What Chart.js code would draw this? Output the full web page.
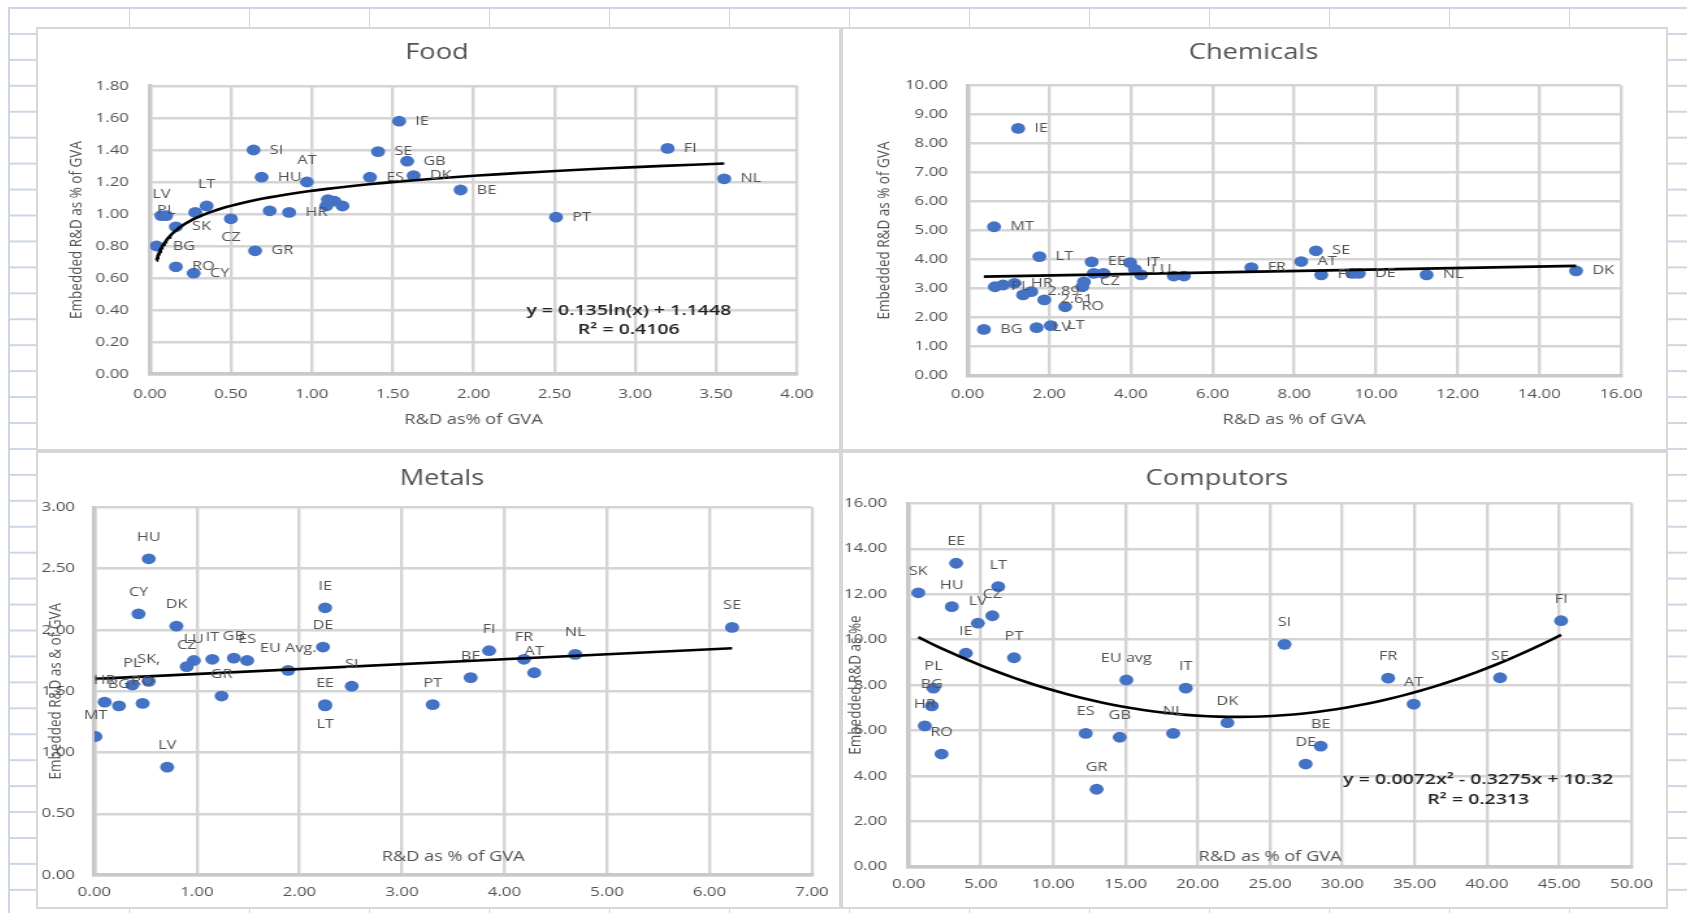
<!DOCTYPE html>
<html>
<head>
<meta charset="utf-8">
<script src="https://cdn.jsdelivr.net/npm/chart.js@4.4.1/dist/chart.umd.min.js"></script>
<style>
html,body{margin:0;padding:0;background:#fff;width:1687px;height:913px;overflow:hidden;}
#sheet{position:absolute;left:8px;top:7px;width:1679px;height:906px;
  background-image:
    linear-gradient(to right, #cdd6e5 0, #cdd6e5 1.5px, transparent 1.5px),
    linear-gradient(to bottom, #cdd6e5 0, #cdd6e5 1.5px, transparent 1.5px);
  background-size:120px 100%, 100% 25.95px;
  background-position:1px 0, 0 0;}
#sheet:before{content:"";position:absolute;left:0;top:0;width:1.5px;height:100%;background:#cdd6e5;}
.panel{position:absolute;background:#fff;box-shadow:inset 0 0 0 2px #d6d6d6;overflow:hidden;}
.panel canvas{position:absolute;left:0;top:0;transform-origin:0 0;transform:scaleX(1.3);}
</style>
</head>
<body>
<div id="sheet"></div>
<div class="panel" id="pFood"></div>
<div class="panel" id="pChem"></div>
<div class="panel" id="pMetals"></div>
<div class="panel" id="pComp"></div>
<script>
// ---------------- DATA ----------------
// Food
const foodTitle = 'Food';
const foodXTitle = 'R&D as% of GVA';
const foodYTitle = 'Embedded R&D as % of GVA';
const foodCountries = ['IE','SI','SE','GB','FI','NL','HU','ES','DK','AT','BE','LT','LV','PL','','SK','CZ','','HR','','','','','BG','GR','RO','CY','PT'];
const foodRD =        [1.54,0.64,1.41,1.59,3.20,3.55,0.69,1.36,1.63,0.97,1.92,0.35,0.07,0.10,0.28,0.16,0.50,0.74,0.86,1.10,1.09,1.14,1.19,0.04,0.65,0.16,0.27,2.51];
const foodEmbedded =  [1.58,1.40,1.39,1.33,1.41,1.22,1.23,1.23,1.24,1.20,1.15,1.05,0.99,0.99,1.01,0.92,0.97,1.02,1.01,1.09,1.05,1.08,1.05,0.80,0.77,0.67,0.63,0.98];
const foodLabelPlace = ['r','r','r','r','r','r','r','r','r','t','r','t','t','c','r','r','b','r','r','r','r','r','r','r','r','r','r','r'];
const foodXRange = [0, 4, 0.5];
const foodYRange = [0, 1.8, 0.2];
const foodTrendCoef = [0.135, 1.1448];           // y = a ln(x) + b
const foodEquation = ['y = 0.135ln(x) + 1.1448', 'R\u00B2 = 0.4106'];

// Chemicals
const chemTitle = 'Chemicals';
const chemXTitle = 'R&D as % of GVA';
const chemYTitle = 'Embedded R&D as % of GVA';
const chemCountries = ['IE','MT','LT','EE','IT','LU','','','','','','CZ','','PL','','HR','2.89','2.61','','RO','BG','LV','LT','SE','AT','FR','FI','','DE','NL','DK'];
const chemRD =        [1.24,0.65,1.76,3.04,3.98,4.10,4.25,5.05,5.30,3.33,3.09,2.85,2.81,0.67,0.87,1.15,1.56,1.88,1.36,2.39,0.40,1.69,2.04,8.53,8.17,6.95,8.66,9.42,9.58,11.24,14.90];
const chemEmbedded =  [8.52,5.13,4.10,3.92,3.89,3.66,3.47,3.43,3.43,3.52,3.52,3.23,3.06,3.06,3.12,3.18,2.89,2.61,2.78,2.37,1.59,1.65,1.72,4.30,3.93,3.72,3.47,3.52,3.52,3.47,3.61];
const chemLabelPlace = chemCountries.map(() => 'r');
const chemXRange = [0, 16, 2];
const chemYRange = [0, 10, 1];
const chemTrendX = [0.40, 14.90];
const chemTrendY = [3.41, 3.78];

// Metals
const metalsTitle = 'Metals';
const metalsXTitle = 'R&D as % of GVA';
const metalsYTitle = 'Embedded R&D as & of GVA';
const metalsCountries = ['HU','CY','DK','IE','DE','SE','FI','NL','FR','AT','BE','PT','SI','EE','LT','EU Avg.','GR','CZ','LU','IT','GB','ES','PL','SK,','HR','BG','RO','MT','LV'];
const metalsRD =        [0.53,0.43,0.80,2.25,2.23,6.22,3.85,4.69,4.19,4.29,3.67,3.30,2.51,2.25,2.25,1.89,1.24,0.90,0.97,1.15,1.36,1.49,0.37,0.53,0.10,0.24,0.47,0.01,0.71];
const metalsEmbedded =  [2.58,2.13,2.03,2.18,1.86,2.02,1.83,1.80,1.76,1.65,1.61,1.39,1.54,1.39,1.38,1.67,1.46,1.70,1.75,1.76,1.77,1.75,1.55,1.58,1.41,1.38,1.40,1.13,0.88];
const metalsLabelPlace = metalsCountries.map(c => c === 'LT' ? 'b' : 't');
const metalsXRange = [0, 7, 1];
const metalsYRange = [0, 3, 0.5];
const metalsTrendX = [0.01, 6.22];
const metalsTrendY = [1.60, 1.85];

// Computors
const compTitle = 'Computors';
const compXTitle = 'R&D as % of GVA';
const compYTitle = 'Embedded R&D as %e';
const compCountries = ['SK','EE','LT','HU','CZ','LV','IE','PT','PL','BG','HR','RO','ES','GB','GR','EU avg','IT','NL','DK','SI','BE','DE','FR','AT','SE','FI'];
const compRD =        [0.67,3.29,6.20,2.99,5.79,4.79,3.96,7.29,1.72,1.60,1.12,2.28,12.25,14.60,13.00,15.06,19.17,18.30,22.05,26.00,28.50,27.46,33.17,34.93,40.91,45.13];
const compEmbedded =  [12.06,13.36,12.33,11.45,11.05,10.72,9.40,9.20,7.86,7.08,6.20,4.96,5.87,5.70,3.41,8.22,7.86,5.87,6.34,9.79,5.31,4.52,8.30,7.16,8.32,10.83];
const compLabelPlace = compCountries.map(() => 't');
const compXRange = [0, 50, 5];
const compYRange = [0, 16, 2];
const compTrendCoef = [0.0072, -0.3275, 10.32];   // y = a x^2 + b x + c
const compEquation = ['y = 0.0072x\u00B2 - 0.3275x + 10.32', 'R\u00B2 = 0.2313'];

// ---------------- STYLE / LAYOUT ----------------
const K = 1.3;                 // horizontal stretch of the reference picture
const FONT = "'Open Sans', 'Segoe UI', sans-serif";
const GREY = '#525252';
const BLUE = '#4472C4';
Chart.defaults.font.family = FONT;
Chart.defaults.color = GREY;

const pointLabelPlugin = {
  id: 'pointLabelPlugin',
  afterDatasetsDraw(chart) {
    const ctx = chart.ctx;
    ctx.save();
    ctx.font = "12.5px " + FONT;
    ctx.fillStyle = GREY;
    ctx.textBaseline = 'middle';
    chart.data.datasets.forEach((ds, di) => {
      if (!ds.pointText) return;
      const meta = chart.getDatasetMeta(di);
      meta.data.forEach((el, i) => {
        const t = ds.pointText[i];
        if (!t) return;
        const p = ds.pointPlace[i];
        let x = el.x, y = el.y;
        if (p === 'r') { ctx.textAlign = 'left'; x += 12.5; }
        else if (p === 't') { ctx.textAlign = 'center'; y -= 21.5; }
        else if (p === 'b') { ctx.textAlign = 'center'; y += 19; }
        else { ctx.textAlign = 'center'; y -= 5; }
        ctx.fillText(t, x, y);
      });
    });
    ctx.restore();
  }
};

const equationPlugin = {
  id: 'equationText',
  afterDatasetsDraw(chart, args, opts) {
    if (!opts || !opts.lines || !opts.lines.length) return;
    const a = chart.chartArea, ctx = chart.ctx;
    ctx.save();
    ctx.font = "600 15px " + FONT;
    ctx.fillStyle = '#222';
    ctx.textAlign = 'center';
    ctx.textBaseline = 'middle';
    opts.lines.forEach((t, i) => {
      ctx.fillText(t, a.left + opts.fx * (a.right - a.left), a.top + opts.fy[i] * (a.bottom - a.top));
    });
    ctx.restore();
  }
};

// places the chart title's centre where the reference has it
const titlePlacePlugin = {
  id: 'titlePlace',
  afterLayout(chart, args, opts) {
    const tb = chart.titleBlock;
    if (!tb || opts.cx == null) return;
    tb.left = opts.cx - 200;
    tb.right = opts.cx + 200;
  }
};

function pairs(xs, ys) { return xs.map((x, i) => ({x: x, y: ys[i]})); }

function logCurve(xs, coef) {
  const lo = Math.min(...xs), hi = Math.max(...xs), out = [];
  for (let i = 0; i <= 80; i++) {
    const x = lo * Math.pow(hi / lo, i / 80);
    out.push({x: x, y: coef[0] * Math.log(x) + coef[1]});
  }
  return out;
}
function polyCurve(xs, coef) {
  const lo = Math.min(...xs), hi = Math.max(...xs), out = [];
  for (let i = 0; i <= 60; i++) {
    const x = lo + (hi - lo) * i / 60;
    out.push({x: x, y: coef[0] * x * x + coef[1] * x + coef[2]});
  }
  return out;
}

function buildPanel(divId, g, s) {
  const div = document.getElementById(divId);
  div.style.left = g.panel.x + 'px';
  div.style.top = g.panel.y + 'px';
  div.style.width = g.panel.w + 'px';
  div.style.height = g.panel.h + 'px';
  const cw = Math.round(g.panel.w / K), ch = g.panel.h;
  const canvas = document.createElement('canvas');
  canvas.width = cw; canvas.height = ch;
  canvas.style.width = cw + 'px'; canvas.style.height = ch + 'px';
  div.appendChild(canvas);

  const yW = (g.plot.l - g.panel.x) / K;
  const padR = cw - (g.plot.r - g.panel.x) / K;
  const topH = g.plot.t - g.panel.y;
  const xH = ch - (g.plot.b - g.panel.y);
  const ttTop = (g.titleY - g.panel.y) - 12.6;
  const ttBottom = topH - 25.2 - ttTop;
  const xTickPad = (g.xTickY - g.plot.b) - 7.8;
  const yTickPad = (g.plot.l - g.yTickRight) / K;
  const xtPad = ch - (g.xTitleY - g.panel.y) - 8.4;
  const ytPad = (g.yTitleX - g.panel.x) / K - 8.1;

  const datasets = [
    { type: 'scatter', label: 'trend', data: s.trend, showLine: true, borderColor: '#000', borderWidth: 2.6,
      pointRadius: 0, pointHoverRadius: 0, fill: false, order: 0 },
    { type: 'scatter', label: s.title, data: s.points, backgroundColor: BLUE, borderColor: BLUE,
      pointRadius: 5.4, pointBorderWidth: 0, pointHoverRadius: 5.4, order: 1,
      pointText: s.labels, pointPlace: s.place }
  ];
  const tickFont = {size: 13};
  new Chart(canvas, {
    type: 'scatter',
    data: {datasets: datasets},
    options: {
      responsive: false, animation: false, devicePixelRatio: 1,
      events: [],
      layout: {padding: {left: 0, top: 0, right: padR, bottom: 0}},
      plugins: {
        legend: {display: false},
        tooltip: {enabled: false},
        title: {display: true, text: s.title, color: GREY, font: {size: 21, weight: 'normal'},
                padding: {top: ttTop, bottom: ttBottom}},
        titlePlace: {cx: (g.titleX - g.panel.x) / K},
        equationText: s.eq
      },
      scales: {
        x: {
          type: 'linear', position: 'bottom', min: s.xr[0], max: s.xr[1],
          afterFit: sc => { sc.height = xH; },
          ticks: {stepSize: s.xr[2], callback: v => Number(v).toFixed(2), padding: xTickPad,
                  font: tickFont, color: GREY, autoSkip: false, maxRotation: 0, minRotation: 0},
          grid: {color: '#d4d4d4', lineWidth: 2.4, drawTicks: false},
          border: {display: true, color: '#c9c9c9', width: 3.5},
          title: {display: true, text: s.xTitle, color: GREY, font: {size: 14}, padding: {top: 0, bottom: xtPad}}
        },
        y: {
          type: 'linear', position: 'left', min: s.yr[0], max: s.yr[1],
          afterFit: sc => { sc.width = yW; },
          ticks: {stepSize: s.yr[2], callback: v => Number(v).toFixed(2), padding: yTickPad,
                  font: tickFont, color: GREY},
          grid: {color: '#d4d4d4', lineWidth: 2.4, drawTicks: false},
          border: {display: true, color: '#c9c9c9', width: 3.5},
          title: {display: true, text: s.yTitle, color: GREY, font: {size: 13.5}, padding: {top: ytPad, bottom: 0}}
        }
      }
    },
    plugins: [pointLabelPlugin, equationPlugin, titlePlacePlugin]
  });
}

buildPanel('pFood',
  {panel: {x: 36, y: 27, w: 805, h: 424}, plot: {l: 150, r: 797, t: 86, b: 374},
   titleX: 437, titleY: 53, xTitleY: 420, yTitleX: 77, xTickY: 394, yTickRight: 129},
  {title: foodTitle, xTitle: foodXTitle, yTitle: foodYTitle,
   points: pairs(foodRD, foodEmbedded), labels: foodCountries, place: foodLabelPlace,
   trend: logCurve(foodRD, foodTrendCoef), xr: foodXRange, yr: foodYRange,
   eq: {lines: foodEquation, fx: 0.740, fy: [0.781, 0.847]}});

buildPanel('pChem',
  {panel: {x: 841, y: 27, w: 827, h: 424}, plot: {l: 967.5, r: 1621, t: 85.5, b: 375.5},
   titleX: 1253.5, titleY: 53, xTitleY: 420.5, yTitleX: 884.5, xTickY: 394, yTickRight: 948},
  {title: chemTitle, xTitle: chemXTitle, yTitle: chemYTitle,
   points: pairs(chemRD, chemEmbedded), labels: chemCountries, place: chemLabelPlace,
   trend: pairs(chemTrendX, chemTrendY), xr: chemXRange, yr: chemYRange,
   eq: {lines: []}});

buildPanel('pMetals',
  {panel: {x: 36, y: 451, w: 805, h: 458}, plot: {l: 94.4, r: 815.4, t: 507.3, b: 875},
   titleX: 442, titleY: 479, xTitleY: 857.5, yTitleX: 56, xTickY: 892, yTickRight: 75},
  {title: metalsTitle, xTitle: metalsXTitle, yTitle: metalsYTitle,
   points: pairs(metalsRD, metalsEmbedded), labels: metalsCountries, place: metalsLabelPlace,
   trend: pairs(metalsTrendX, metalsTrendY), xr: metalsXRange, yr: metalsYRange,
   eq: {lines: []}});

buildPanel('pComp',
  {panel: {x: 841, y: 451, w: 827, h: 458}, plot: {l: 908.6, r: 1631.5, t: 503.3, b: 866.7},
   titleX: 1217, titleY: 479, xTitleY: 857.4, yTitleX: 855, xTickY: 884.4, yTickRight: 887},
  {title: compTitle, xTitle: compXTitle, yTitle: compYTitle,
   points: pairs(compRD, compEmbedded), labels: compCountries, place: compLabelPlace,
   trend: polyCurve(compRD, compTrendCoef), xr: compXRange, yr: compYRange,
   eq: {lines: compEquation, fx: 0.788, fy: [0.761, 0.815]}});
</script>
</body>
</html>
